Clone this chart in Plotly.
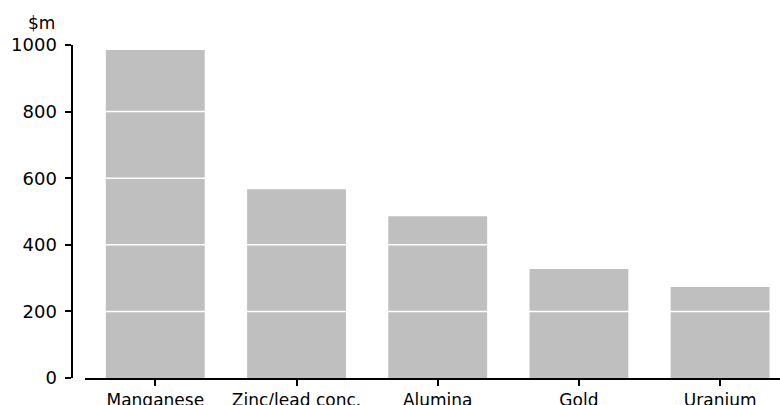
import plotly.graph_objects as go

categories = ["Manganese", "Zinc/lead conc.", "Alumina", "Gold", "Uranium"]
values = [985, 567, 486, 327, 273]
y_ticks = [0, 200, 400, 600, 800, 1000]
grid_values = [200, 400, 600, 800]

W, H = 780, 405
FONT = "DejaVu Sans"
X0 = 84.7 / W

fig = go.Figure()
fig.add_trace(go.Bar(
    x=categories, y=values,
    marker=dict(color="#BFBFBF", line=dict(width=0)),
    hoverinfo="skip",
))

for g in grid_values:
    fig.add_shape(type="line", xref="paper", yref="y",
                  x0=X0, x1=1, y0=g, y1=g,
                  line=dict(color="white", width=1.5), layer="above")

fig.update_layout(
    width=W, height=H,
    margin=dict(l=0, r=0, t=45, b=27, autoexpand=False),
    paper_bgcolor="white", plot_bgcolor="white",
    showlegend=False,
    bargap=0.3,
    font=dict(family=FONT, size=17, color="black"),
    xaxis=dict(
        domain=[X0, 1],
        range=[-0.5, 4.424],
        automargin=False,
        showgrid=False, zeroline=False,
        showline=True, linecolor="black", linewidth=2,
        ticks="outside", ticklen=6, tickwidth=1.7, tickcolor="black",
        tickfont=dict(family=FONT, size=17),
    ),
    yaxis=dict(
        range=[0, 1000],
        tickvals=y_ticks,
        automargin=False,
        showgrid=False, zeroline=False,
        anchor="free", position=71.5 / W,
        showline=True, linecolor="black", linewidth=2,
        ticks="outside", ticklen=6, tickwidth=1.7, tickcolor="black",
        tickfont=dict(family=FONT, size=18),
        ticklabelstandoff=4,
    ),
    annotations=[dict(
        text="$m", xref="paper", yref="paper",
        x=41 / W, y=1, yshift=10, xanchor="center", yanchor="bottom",
        showarrow=False, font=dict(family=FONT, size=17),
    )],
)

fig.write_html(
    "out.html",
    config={"displayModeBar": False},
    post_script="document.body.style.margin='0';document.body.style.overflow='hidden';",
)
